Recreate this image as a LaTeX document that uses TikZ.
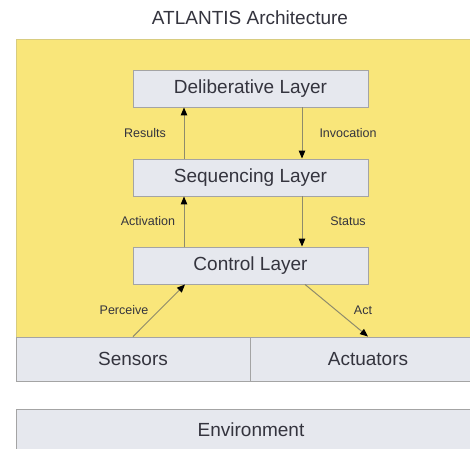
\documentclass[tikz,border=0pt]{standalone}
\usepackage{fontspec}
\setmainfont{Liberation Sans}
\usetikzlibrary{arrows.meta}
\definecolor{panel}{HTML}{F9E67A}
\definecolor{panelline}{HTML}{D8CC80}
\definecolor{boxfill}{HTML}{E6E8EE}
\definecolor{boxline}{HTML}{A4A4A4}
\definecolor{wire}{HTML}{8E8B6C}
\definecolor{ink}{HTML}{34343E}
\begin{document}
\begin{tikzpicture}[x=1bp,y=-1bp,
  big/.style={font=\fontsize{19bp}{22bp}\selectfont, text=ink},
  layer/.style={big, draw=boxline, fill=boxfill, line width=0.9bp,
    minimum width=235bp, minimum height=37bp, inner sep=0pt},
  io/.style={big, draw=boxline, fill=boxfill, line width=0.9bp, inner sep=0pt},
  lbl/.style={font=\fontsize{12.5bp}{14bp}\selectfont, text=ink},
  flow/.style={draw=wire, line width=1bp,
    -{Triangle[length=8bp,width=6.5bp,color=black]}}]
  % canvas
  \fill[white] (0,0) rectangle (470,449);
  \useasboundingbox (0,0) rectangle (470,449);

  % title
  \node[big, anchor=base] (title) at (250,25) {ATLANTIS Architecture};

  % agent panel
  \draw[panelline, fill=panel, line width=0.8bp] (16,39) rectangle (486,337);

  % layers
  \node[layer] (del) at (250.5,88.5)  {Deliberative Layer};
  \node[layer] (seq) at (250.5,177.5) {Sequencing Layer};
  \node[layer] (ctl) at (250.5,265.5) {Control Layer};

  % sensors and actuators
  \node[io, minimum width=234bp, minimum height=44bp] (sens) at (133,359) {Sensors};
  \node[io, minimum width=236bp, minimum height=44bp] (act)  at (368,359) {Actuators};

  % environment
  \node[io, minimum width=470bp, minimum height=42bp] (env) at (251,430) {Environment};

  % vertical flows between layers
  \draw[flow] ([xshift=-66.5bp]seq.north) -- ([xshift=-66.5bp]del.south);
  \draw[flow] ([xshift=51.5bp]del.south)  -- ([xshift=51.5bp]seq.north);
  \draw[flow] ([xshift=-66.5bp]ctl.north) -- ([xshift=-66.5bp]seq.south);
  \draw[flow] ([xshift=51.5bp]seq.south)  -- ([xshift=51.5bp]ctl.north);

  % perception and action
  \draw[flow] (sens.north) -- ([xshift=-65.5bp]ctl.south);
  \draw[flow] ([xshift=54.5bp]ctl.south) -- (act.north);

  % flow labels
  \node[lbl] (lres) at (145,133) {Results};
  \node[lbl] (linv) at (348,133) {Invocation};
  \node[lbl] (lact) at (148,221) {Activation};
  \node[lbl] (lsta) at (348,221) {Status};
  \node[lbl] (lper) at (124,310) {Perceive};
  \node[lbl] (lact2) at (363,310) {Act};
\end{tikzpicture}
\end{document}
